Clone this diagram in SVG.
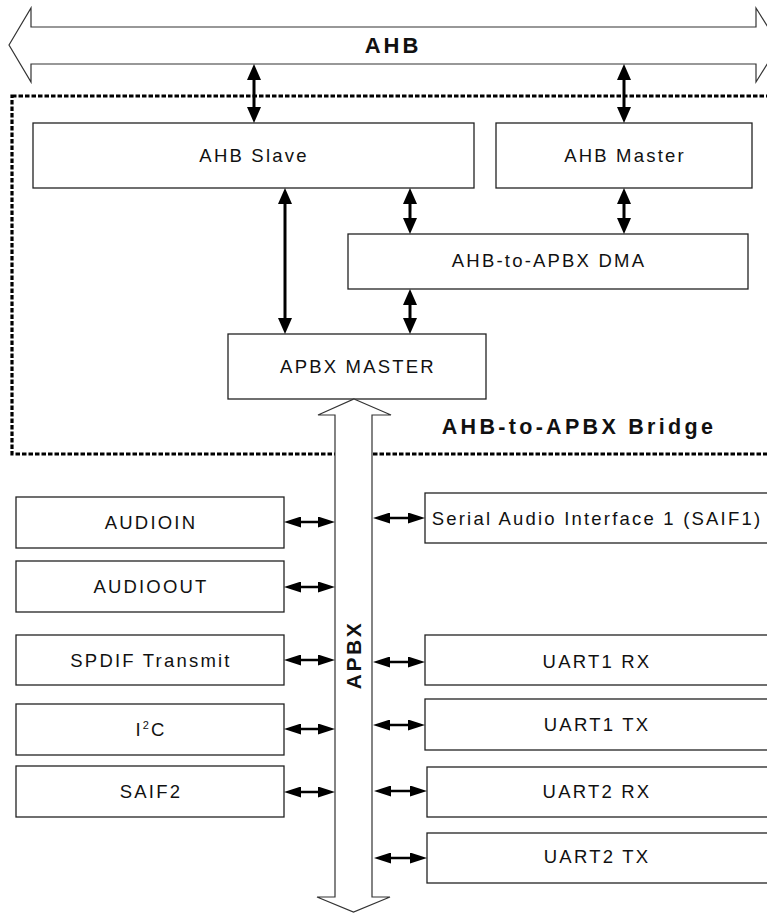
<svg xmlns="http://www.w3.org/2000/svg" width="767" height="913" viewBox="0 0 767 913">
<style>
.box{fill:#fff;stroke:#222;stroke-width:1.3}
.t{font-family:"Liberation Sans",Arial,sans-serif;font-size:18.5px;letter-spacing:2.2px;fill:#111;text-anchor:middle}
.b{font-family:"Liberation Sans",Arial,sans-serif;font-weight:bold;fill:#111;text-anchor:middle}
.bus{fill:#fff;stroke:#333;stroke-width:1.2}
.v{stroke:#000;stroke-width:3;fill:none;marker-start:url(#va);marker-end:url(#va)}
.h{stroke:#000;stroke-width:2.4;fill:none;marker-start:url(#ha);marker-end:url(#ha)}
</style>
<defs>
<marker id="va" viewBox="0 0 16 14" refX="9" refY="7" markerWidth="16" markerHeight="14" markerUnits="userSpaceOnUse" orient="auto-start-reverse">
<path d="M0,0 L16,7 L0,14 z" fill="#000"/>
</marker>
<marker id="ha" viewBox="0 0 17 11" refX="10" refY="5.5" markerWidth="17" markerHeight="11" markerUnits="userSpaceOnUse" orient="auto-start-reverse">
<path d="M0,0 L17,5.5 L0,11 z" fill="#000"/>
</marker>
</defs>
<rect width="767" height="913" fill="#fff"/>

<g id="bridge">
<rect x="12" y="96" width="800" height="358" fill="none" stroke="#000" stroke-width="3.2" stroke-dasharray="4.5 2"/>
<text class="b" x="579" y="434" font-size="21.5" letter-spacing="3.3">AHB-to-APBX Bridge</text>
</g>

<g id="ahb">
<polygon class="bus" points="9,45 31,8 31,27 756,27 756,8 779,45 756,82 756,64 31,64 31,82"/>
<text class="b" x="393" y="53" font-size="22" letter-spacing="3">AHB</text>
</g>

<g id="ahb-slave"><rect class="box" x="33" y="123" width="441" height="65"/><text class="t" x="254" y="162">AHB Slave</text></g>
<g id="ahb-master"><rect class="box" x="496" y="123" width="256" height="65"/><text class="t" x="625" y="162">AHB Master</text></g>
<g id="dma"><rect class="box" x="348" y="234" width="400" height="55"/><text class="t" x="549" y="267">AHB-to-APBX DMA</text></g>
<g id="apbx-master"><rect class="box" x="228" y="334" width="258" height="65"/><text class="t" x="358" y="373">APBX MASTER</text></g>

<g id="apbx">
<polygon class="bus" points="354,399 391,415 372,415 372,897 390,897 353.5,912 317,897 335,897 335,415 318,415"/>
<text class="b" transform="translate(361,655) rotate(-90)" font-size="21" letter-spacing="2.5">APBX</text>
</g>

<g id="audioin"><rect class="box" x="16" y="497" width="268" height="51"/><text class="t" x="151" y="529">AUDIOIN</text></g>
<g id="audioout"><rect class="box" x="16" y="561" width="268" height="51"/><text class="t" x="151" y="593">AUDIOOUT</text></g>
<g id="spdif"><rect class="box" x="16" y="635" width="268" height="50"/><text class="t" x="151" y="667">SPDIF Transmit</text></g>
<g id="i2c"><rect class="box" x="16" y="704" width="268" height="51"/><text class="t" x="151" y="736">I<tspan font-size="11" dy="-7">2</tspan><tspan dy="7">C</tspan></text></g>
<g id="saif2"><rect class="box" x="16" y="766" width="268" height="51"/><text class="t" x="151" y="798">SAIF2</text></g>

<g id="saif1"><rect class="box" x="425" y="493" width="345" height="50"/><text class="t" x="597" y="525" letter-spacing="1.6">Serial Audio Interface 1 (SAIF1)</text></g>
<g id="uart1rx"><rect class="box" x="425" y="635" width="345" height="50"/><text class="t" x="597" y="668">UART1 RX</text></g>
<g id="uart1tx"><rect class="box" x="425" y="699" width="345" height="51"/><text class="t" x="597" y="731">UART1 TX</text></g>
<g id="uart2rx"><rect class="box" x="427" y="767" width="343" height="50"/><text class="t" x="597" y="798">UART2 RX</text></g>
<g id="uart2tx"><rect class="box" x="427" y="833" width="343" height="50"/><text class="t" x="597" y="863">UART2 TX</text></g>

<g id="connectors">
<line class="v" x1="254" y1="71" x2="254" y2="116"/>
<line class="v" x1="624" y1="71" x2="624" y2="116"/>
<line class="v" x1="285" y1="195" x2="285" y2="327"/>
<line class="v" x1="410" y1="195" x2="410" y2="227"/>
<line class="v" x1="624" y1="195" x2="624" y2="227"/>
<line class="v" x1="410" y1="296" x2="410" y2="327"/>
<line class="h" x1="291" y1="522" x2="328" y2="522"/>
<line class="h" x1="291" y1="587" x2="328" y2="587"/>
<line class="h" x1="291" y1="660" x2="328" y2="660"/>
<line class="h" x1="291" y1="729" x2="328" y2="729"/>
<line class="h" x1="291" y1="792" x2="328" y2="792"/>
<line class="h" x1="380" y1="518" x2="418" y2="518"/>
<line class="h" x1="380" y1="662" x2="418" y2="662"/>
<line class="h" x1="380" y1="725" x2="418" y2="725"/>
<line class="h" x1="381" y1="791" x2="420" y2="791"/>
<line class="h" x1="381" y1="858" x2="420" y2="858"/>
</g>
</svg>
